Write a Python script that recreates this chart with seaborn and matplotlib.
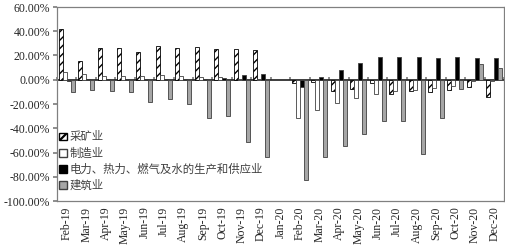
import numpy as np
import pandas as pd
import matplotlib
matplotlib.use("Agg")
import matplotlib.pyplot as plt
import seaborn as sns
from matplotlib.ticker import FuncFormatter

months = ["Feb-19", "Mar-19", "Apr-19", "May-19", "Jun-19", "Jul-19", "Aug-19", "Sep-19",
          "Oct-19", "Nov-19", "Dec-19", "Jan-20", "Feb-20", "Mar-20", "Apr-20", "May-20",
          "Jun-20", "Jul-20", "Aug-20", "Sep-20", "Oct-20", "Nov-20", "Dec-20"]
series_names = ["采矿业", "制造业", "电力、热力、燃气及水的生产和供应业", "建筑业"]

mining = [42.0, 15.4, 26.2, 26.4, 22.9, 27.8, 26.4, 26.7, 25.3, 25.6, 24.5, np.nan,
          -3.0, -2.0, -9.0, -8.0, -3.0, -12.0, -9.6, -9.9, -8.5, -6.3, -14.0]
manufacturing = [6.3, 5.0, 2.8, 2.8, 2.8, 3.6, 2.8, 2.2, 2.0, 1.0, 1.0, np.nan,
                 -31.7, -25.0, -19.0, -15.2, -11.8, -9.6, -8.8, -7.2, -5.5, -1.0, -1.0]
electricity = [-1.2, 0.5, 0.5, 0.8, 0.4, 0.5, 0.5, 0.6, 1.4, 3.6, 5.0, np.nan,
               -6.3, 1.9, 8.0, 14.0, 18.7, 18.5, 18.7, 17.6, 18.7, 17.6, 17.8]
construction = [-10.2, -8.3, -9.4, -9.9, -18.5, -16.0, -20.0, -31.4, -30.3, -51.5, -63.9, np.nan,
                -82.9, -63.9, -54.3, -44.9, -33.9, -34.4, -61.2, -31.7, -8.0, 13.0, 9.6]

df = pd.DataFrame({
    "month": months * 4,
    "series": np.repeat(series_names, len(months)),
    "value": mining + manufacturing + electricity + construction,
})

sns.set_theme(style="white")
plt.rcParams["font.family"] = ["Liberation Serif", "Noto Sans CJK SC", "DejaVu Sans"]

fig = plt.figure(figsize=(5.06, 2.47), dpi=100)
ax = fig.add_axes([57 / 506, 1 - 201 / 247, 447 / 506, 194 / 247])

palette = {series_names[0]: "white", series_names[1]: "white",
           series_names[2]: "black", series_names[3]: "#A6A6A6"}
sns.barplot(data=df, x="month", y="value", hue="series", order=months,
            hue_order=series_names, palette=palette, width=0.82, ax=ax,
            edgecolor="#404040", linewidth=0.6, errorbar=None, legend=False)

plt.rcParams["hatch.linewidth"] = 1.6
for bar in ax.containers[0]:
    bar.set_hatch("////")
    bar.set_edgecolor("black")

ax.set_ylim(-100, 60)
ax.set_yticks(np.arange(-100, 61, 20))
ax.yaxis.set_major_formatter(FuncFormatter(lambda v, p: f"{v:.2f}%"))
ax.set_xlabel("")
ax.set_ylabel("")
ax.set_xlim(-0.5, len(months) - 0.5)
ax.tick_params(axis="x", labelrotation=90, labelsize=8.5, length=0, pad=4)
ax.tick_params(axis="y", labelsize=8.5, length=3, direction="out", left=True, color="#808080", pad=2)
for lab in ax.get_xticklabels() + ax.get_yticklabels():
    lab.set_fontfamily("Liberation Serif")
for sp in ax.spines.values():
    sp.set_color("#808080")
    sp.set_linewidth(0.9)

# zero axis line with category tick marks
sec = ax.secondary_xaxis(100 / 160)
sec.set_xticks(np.arange(-0.5, len(months), 1.0))
sec.tick_params(axis="x", direction="out", length=2.5, color="#808080", labelbottom=False, labeltop=False)
sec.spines["bottom"].set_color("#808080")
sec.spines["bottom"].set_linewidth(0.9)

# legend
from matplotlib.patches import Patch
handles = [Patch(facecolor="white", edgecolor="black", hatch="////"),
           Patch(facecolor="white", edgecolor="#404040"),
           Patch(facecolor="black", edgecolor="black"),
           Patch(facecolor="#A6A6A6", edgecolor="#404040")]
leg = ax.legend(handles, series_names, loc="upper left", bbox_to_anchor=(0.0, 0.37),
                frameon=False, prop={"family": ["Noto Sans CJK SC"], "size": 8.2},
                handlelength=0.7, handleheight=0.7, handletextpad=0.2,
                labelspacing=0.42, borderaxespad=0, borderpad=0.2)
for t in leg.get_texts():
    t.set_color("#404040")

fig.savefig("out.png", dpi=100)
